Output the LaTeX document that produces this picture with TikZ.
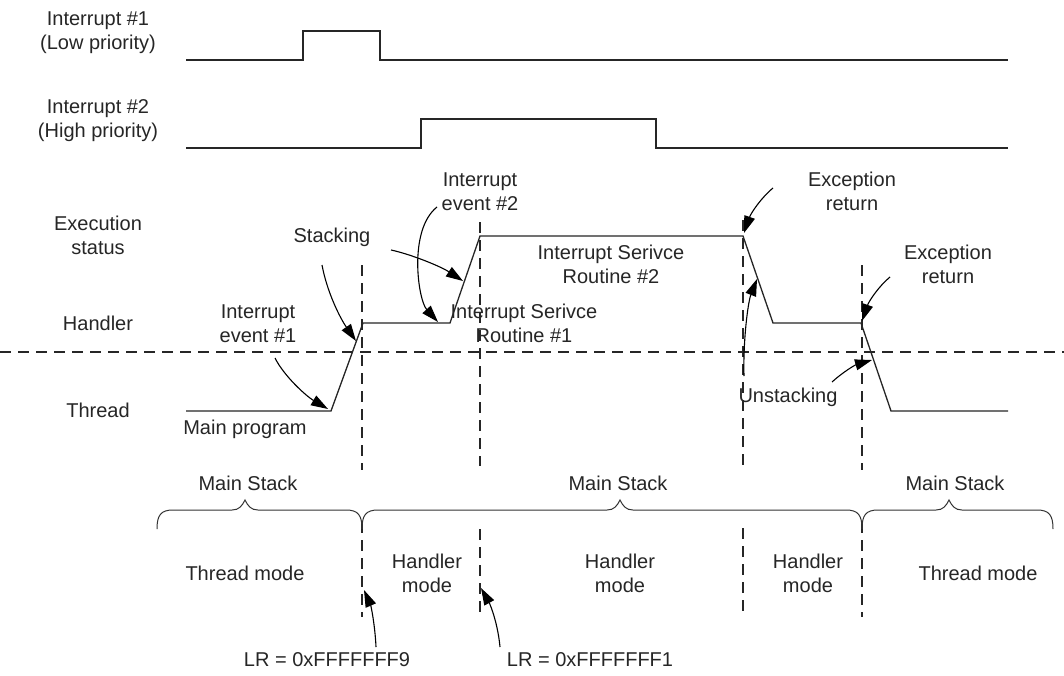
\documentclass[tikz,border=0pt]{standalone}
\usepackage{fontspec}
\setmainfont{Liberation Sans}
\usetikzlibrary{arrows.meta}
\newcommand{\stkbrace}[3]{%
  \draw[brc] (#1,529) .. controls (#1,515) and ({#1+4},510) .. ({#1+16},510)
    -- ({#2-13},510) .. controls ({#2-6},510) and ({#2-3},506) .. (#2,500)
    .. controls ({#2+3},506) and ({#2+6},510) .. ({#2+13},510)
    -- ({#3-16},510) .. controls ({#3-4},510) and (#3,515) .. (#3,529);}
\begin{document}
\begin{tikzpicture}[x=1pt,y=-1pt,
  lbl/.style={font=\fontsize{20}{24}\selectfont, align=center, inner sep=0pt, text=black!85},
  sig/.style={line width=1.3pt, line join=miter, black!85},
  dsh/.style={line width=1.1pt, black!85, dash pattern=on 11pt off 7pt},
  arr/.style={line width=1.1pt, black, -{Triangle[length=17pt,width=11pt]}},
  brc/.style={line width=1pt, black!80}]
\useasboundingbox (0,0) rectangle (1064,675);
\fill[white] (0,0) rectangle (1064,675);

% ---- labels ----
\node[lbl] (i1) at (98,32.5) {Interrupt \#1\\(Low priority)};
\node[lbl] (i2) at (98,120.5) {Interrupt \#2\\(High priority)};
\node[lbl] (ex) at (98,235) {Execution\\status};
\node[lbl] (hd) at (98,323) {Handler};
\node[lbl] (th) at (98,410) {Thread};
\node[lbl] (mp) at (245,429) {Main program};
\node[lbl] (ev1) at (258,323.5) {Interrupt\\event \#1};
\node[lbl] (stk) at (332,237) {Stacking};
\node[lbl] (ev2) at (480,191.5) {Interrupt\\event \#2};
\node[lbl] (isr1) at (524,323.5) {Interrupt Serivce\\Routine \#1};
\node[lbl] (isr2) at (611,264.5) {Interrupt Serivce\\Routine \#2};
\node[lbl] (er1) at (852,191.5) {Exception\\return};
\node[lbl] (er2) at (948,264.5) {Exception\\return};
\node[lbl] (uns) at (788,397) {Unstacking};
\node[lbl] (ms1) at (248,483) {Main Stack};
\node[lbl] (ms2) at (618,483) {Main Stack};
\node[lbl] (ms3) at (955,483) {Main Stack};
\node[lbl] (tm1) at (245,573) {Thread mode};
\node[lbl] (hm1) at (427,573) {Handler\\mode};
\node[lbl] (hm2) at (620,573) {Handler\\mode};
\node[lbl] (hm3) at (808,573) {Handler\\mode};
\node[lbl] (tm2) at (978,573) {Thread mode};
\node[lbl] (lr1) at (327,660) {LR = 0xFFFFFFF9};
\node[lbl] (lr2) at (590,660) {LR = 0xFFFFFFF1};

% ---- signal waveforms ----
\draw[sig] (186,60) -- (303,60) -- (303,31) -- (380,31) -- (380,60) -- (1008,60);
\draw[sig] (186,148) -- (421,148) -- (421,119) -- (656,119) -- (656,148) -- (1008,148);
\draw[sig] (186,411) -- (331,411) -- (363,323) -- (450,323) -- (480,236)
  -- (743,236) -- (773,323) -- (861,323) -- (891,411) -- (1008,411);

% ---- dashed guides ----
\draw[dsh] (0,352) -- (1064,352);
\draw[dsh] (362,265) -- (362,470);
\draw[dsh] (362,522) -- (362,617);
\draw[dsh] (480,222) -- (480,466);
\draw[dsh] (480,529) -- (480,612);
\draw[dsh] (743,220) -- (743,470);
\draw[dsh] (743,528) -- (743,612);
\draw[dsh] (862,265) -- (862,470);
\draw[dsh] (862,522) -- (862,617);

% ---- braces ----
\stkbrace{157}{245}{362}
\stkbrace{362}{620}{862}
\stkbrace{862}{949}{1053}

% ---- arrow end points ----
\coordinate (a1s) at (275,358);  \coordinate (a1e) at (328,409);
\coordinate (a2s) at (322,265);  \coordinate (a2e) at (356,341);
\coordinate (a3s) at (391,250);  \coordinate (a3e) at (463,281);
\coordinate (a4s) at (437,207);  \coordinate (a4e) at (438,322);
\coordinate (a5s) at (773,188);  \coordinate (a5e) at (744,233);
\coordinate (a6s) at (744,376);  \coordinate (a6e) at (757,279);
\coordinate (a7s) at (890,277);  \coordinate (a7e) at (862,321);
\coordinate (a8s) at (832,382);  \coordinate (a8e) at (872,360);
\coordinate (a9s) at (376,647);  \coordinate (a9e) at (364,590);
\coordinate (a10s) at (500,647); \coordinate (a10e) at (481,588);

% ---- arrows ----
\draw[arr] (a1s) .. controls (284,376) and (306,396) .. (a1e);
\draw[arr] (a2s) .. controls (327,292) and (340,318) .. (a2e);
\draw[arr] (a3s) .. controls (410,254) and (440,266) .. (a3e);
\draw[arr] (a4s) .. controls (408,230) and (418,300) .. (a4e);
\draw[arr] (a5s) .. controls (761,198) and (751,213) .. (a5e);
\draw[arr] (a6s) .. controls (743,340) and (748,302) .. (a6e);
\draw[arr] (a7s) .. controls (879,286) and (869,301) .. (a7e);
\draw[arr] (a8s) .. controls (843,372) and (855,365) .. (a8e);
\draw[arr] (a9s) .. controls (375,625) and (371,606) .. (a9e);
\draw[arr] (a10s) .. controls (498,625) and (491,606) .. (a10e);
\end{tikzpicture}
\end{document}
